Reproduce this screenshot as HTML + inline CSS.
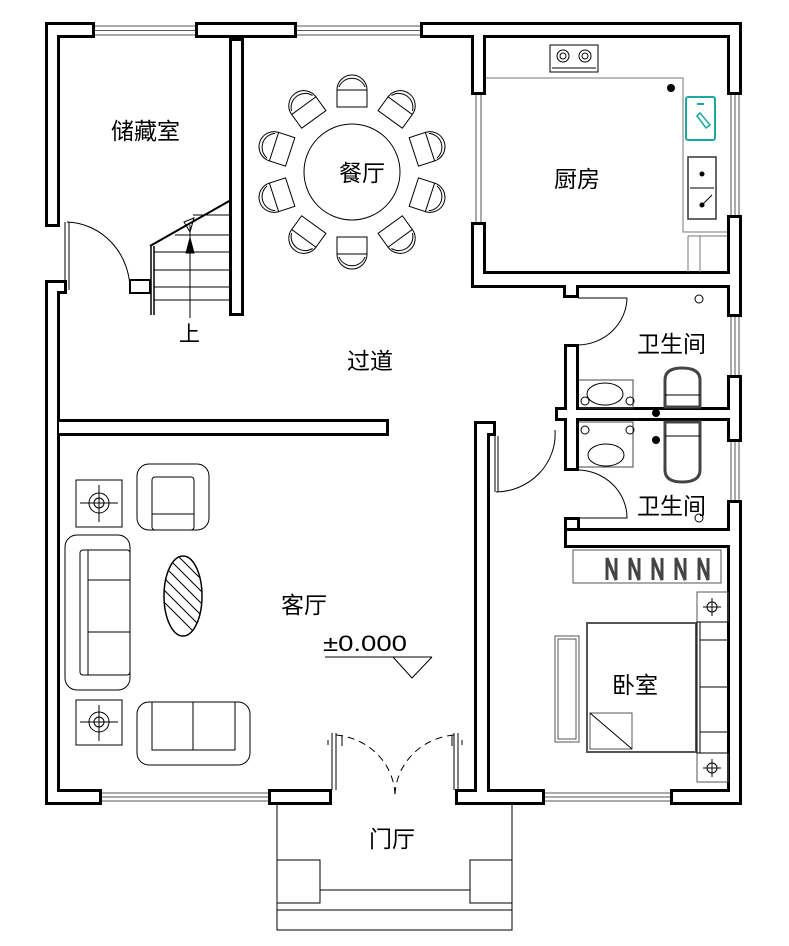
<!DOCTYPE html>
<html><head><meta charset="utf-8"><style>
html,body{margin:0;padding:0;background:#fff;}
svg{display:block;}
text{font-family:"Liberation Sans","Noto Sans CJK SC",sans-serif;fill:#000;}
</style></head><body>
<svg width="789" height="946" viewBox="0 0 789 946" xmlns="http://www.w3.org/2000/svg">
<defs><clipPath id="ct"><ellipse cx="183" cy="596" rx="19" ry="40"/></clipPath></defs>
<g stroke="#555" stroke-width="1" fill="none">
 <path d="M93 26H197M93 30.5H197M93 35H197"/>
 <path d="M297 26H420M297 30.5H420M297 35H420"/>
 <path d="M100 793H270M100 797H270M100 801H270"/>
 <path d="M545 793H672M545 797H672M545 801H672"/>
 <path d="M731 95V217M735 95V217M739 95V217"/>
 <path d="M731 315V377M735 315V377M739 315V377"/>
 <path d="M731 440V502M735 440V502M739 440V502"/>
 <path d="M476 95V222M481 95V222"/>
</g>
<g fill="#000">
 <rect x="45" y="22" width="50" height="16"/>
 <rect x="195" y="22" width="102" height="16"/>
 <rect x="420" y="22" width="322" height="16"/>
 <rect x="45" y="22" width="15" height="205"/>
 <rect x="45" y="280" width="15" height="525"/>
 <rect x="45" y="280" width="22" height="14"/>
 <rect x="45" y="789" width="57" height="16"/>
 <rect x="268" y="789" width="64" height="16"/>
 <rect x="455" y="789" width="90" height="16"/>
 <rect x="670" y="789" width="72" height="16"/>
 <rect x="727" y="22" width="15" height="73"/>
 <rect x="727" y="215" width="15" height="102"/>
 <rect x="727" y="375" width="15" height="67"/>
 <rect x="727" y="500" width="15" height="305"/>
 <rect x="229" y="22" width="15" height="294"/>
 <rect x="56" y="419" width="333" height="17"/>
 <rect x="471" y="22" width="15" height="73"/>
 <rect x="471" y="222" width="15" height="66"/>
 <rect x="471" y="271" width="271" height="17"/>
 <rect x="563" y="285" width="16" height="13"/>
 <rect x="564" y="344" width="15" height="127"/>
 <rect x="555" y="407" width="187" height="14"/>
 <rect x="564" y="517" width="16" height="14"/>
 <rect x="564" y="528" width="178" height="20"/>
 <rect x="474" y="421" width="16" height="384"/>
 <rect x="474" y="421" width="22" height="15"/>
</g>
<g fill="#fff">
 <rect x="48" y="25" width="44" height="10"/>
 <rect x="198" y="25" width="96" height="10"/>
 <rect x="423" y="25" width="316" height="10"/>
 <rect x="48" y="25" width="9" height="199"/>
 <rect x="48" y="283" width="9" height="519"/>
 <rect x="48" y="283" width="16" height="8"/>
 <rect x="48" y="792" width="51" height="10"/>
 <rect x="271" y="792" width="58" height="10"/>
 <rect x="458" y="792" width="84" height="10"/>
 <rect x="673" y="792" width="66" height="10"/>
 <rect x="730" y="25" width="9" height="67"/>
 <rect x="730" y="218" width="9" height="96"/>
 <rect x="730" y="378" width="9" height="61"/>
 <rect x="730" y="503" width="9" height="299"/>
 <rect x="232" y="41" width="9" height="272"/>
 <rect x="59" y="422" width="327" height="11"/>
 <rect x="474" y="25" width="9" height="67"/>
 <rect x="474" y="225" width="9" height="60"/>
 <rect x="474" y="274" width="265" height="11"/>
 <rect x="566" y="285" width="10" height="10"/>
 <rect x="567" y="347" width="9" height="121"/>
 <rect x="558" y="410" width="181" height="8"/>
 <rect x="567" y="520" width="10" height="8"/>
 <rect x="567" y="531" width="172" height="14"/>
 <rect x="477" y="424" width="10" height="378"/>
 <rect x="477" y="424" width="16" height="9"/>
</g>
<g fill="none" stroke="#000" stroke-width="1">
 <path d="M65 222V290M69 222V290"/>
 <path d="M67 222A65 68 0 0 1 130 290"/>
 <rect x="130" y="280" width="20" height="13" stroke-width="2"/>
 <path d="M151 246V315M154 246V315" stroke-width="1.5"/>
 <path d="M150 246L231 200" stroke-width="2"/>
 <path d="M154 252H230M154 270H230M154 287H230M154 300H230M193 215H230M175 235H230"/>
 <path d="M190 225V318"/>
 <path d="M184 222L190 232L194 218Z"/>
 <path d="M186 253L190 238L194 253Z" fill="#000"/>
 <circle cx="352" cy="172" r="48"/>
</g>
<g fill="none" stroke="#000" stroke-width="1">
 <g transform="translate(352 172)">
  <g id="ch"><path d="M-15 -65V-82H15V-65Z"/><path d="M-15 -82A15 15 0 0 1 15 -82"/><path d="M-13 -85A14 14 0 0 1 13 -85"/></g>
  <use href="#ch" transform="rotate(36)"/><use href="#ch" transform="rotate(72)"/>
  <use href="#ch" transform="rotate(108)"/><use href="#ch" transform="rotate(144)"/>
  <use href="#ch" transform="rotate(180)"/><use href="#ch" transform="rotate(216)"/>
  <use href="#ch" transform="rotate(252)"/><use href="#ch" transform="rotate(288)"/>
  <use href="#ch" transform="rotate(324)"/>
 </g>
</g>
<g fill="none" stroke="#777" stroke-width="1">
 <path d="M486 78H683V232H727"/>
 <path d="M688 236V272M700 236V272M688 236H727"/>
</g>
<g fill="none" stroke="#000" stroke-width="1">
 <rect x="550" y="45" width="48" height="27"/>
 <circle cx="563" cy="56" r="6"/><circle cx="563" cy="56" r="3"/>
 <circle cx="585" cy="56" r="6"/><circle cx="585" cy="56" r="3"/>
 <path d="M552 68H596"/>
 <rect x="688" y="157" width="28" height="62" stroke="#333" stroke-width="1.5"/>
 <path d="M690 188H714"/>
 <circle cx="702" cy="174" r="2" fill="#000"/>
 <circle cx="702" cy="205" r="2" fill="#000"/>
 <path d="M702 205L712 195"/>
</g>
<circle cx="671" cy="88" r="4" fill="#000"/>
<rect x="686" y="97" width="29" height="43" rx="2" fill="none" stroke="#1aa9a0" stroke-width="2"/>
<path d="M697 104H704" stroke="#1aa9a0" stroke-width="2"/>
<path d="M697 116L706 128L710 125L700 113Z" fill="none" stroke="#1aa9a0" stroke-width="1.5"/>
<g fill="none" stroke="#000" stroke-width="1">
 <path d="M578 298H627"/>
 <path d="M627 298A50 48 0 0 1 578 345"/>
 <path d="M578 470A50 48 0 0 1 627 518H580"/>
 <path d="M495 436V492M498 436V492"/>
 <path d="M496 492A60 58 0 0 0 555 430"/>
 <path d="M579 380H633V408H579" stroke="#444"/>
 <ellipse cx="605" cy="394" rx="18" ry="11"/>
 <circle cx="585" cy="401" r="4"/><circle cx="630" cy="401" r="4"/>
 <path d="M579 422H633V467H579" stroke="#444"/>
 <ellipse cx="606" cy="455" rx="18" ry="11"/>
 <circle cx="585" cy="430" r="4"/><circle cx="630" cy="430" r="4"/>
 <path d="M665 407V380Q665 368 682 368Q700 368 700 380V407Z" stroke="#444" stroke-width="3"/>
 <path d="M665 395H700"/>
 <path d="M665 422V470Q665 482 682 482Q700 482 700 470V422Z" stroke="#444" stroke-width="3"/>
 <path d="M665 436H700"/>
 <circle cx="699" cy="299" r="4"/><circle cx="699" cy="518" r="4"/>
</g>
<circle cx="656" cy="413" r="4" fill="#000"/>
<circle cx="656" cy="440" r="4" fill="#000"/>
<g fill="none" stroke="#000" stroke-width="1">
 <rect x="573" y="550" width="148" height="33" stroke="#555"/>
 <rect x="555" y="636" width="24" height="106" stroke="#555"/>
 <rect x="558" y="639" width="18" height="100" stroke="#555"/>
 <rect x="587" y="623" width="109" height="129" stroke="#555" stroke-width="2"/>
 <rect x="590" y="713" width="42" height="36" stroke="#555"/>
 <path d="M590 713L632 749"/>
 <rect x="697" y="592" width="31" height="30" stroke="#555"/>
 <rect x="697" y="753" width="31" height="29" stroke="#555"/>
 <circle cx="712" cy="607" r="5"/><path d="M712 598V616M703 607H721"/>
 <circle cx="712" cy="768" r="5"/><path d="M712 759V777M703 768H721"/>
 <rect x="697" y="622" width="31" height="131"/>
 <path d="M700 622V753M700 640H728M700 687H728M700 732H728"/>
</g>
<g stroke="#444" stroke-width="3" fill="none">
 <path d="M607 580V558L616 580V558M630 580V558L639 580V558M653 580V558L662 580V558M676 580V558L685 580V558M699 580V558L708 580V558"/>
</g>
<g fill="none" stroke="#000" stroke-width="1">
 <rect x="76" y="480" width="46" height="47"/>
 <circle cx="99" cy="503" r="10"/><circle cx="99" cy="503" r="5"/><path d="M99 485V522M80 503H118"/>
 <rect x="76" y="700" width="46" height="45"/>
 <circle cx="99" cy="722" r="10"/><circle cx="99" cy="722" r="5"/><path d="M99 705V741M80 722H118"/>
 <rect x="137" y="464" width="72" height="66" rx="12"/>
 <rect x="152" y="477" width="42" height="53" rx="3"/><path d="M152 514H194"/>
 <rect x="65" y="535" width="65" height="155" rx="12"/>
 <rect x="80" y="550" width="50" height="125" rx="3"/>
 <path d="M88 550V675M88 580H130M88 632H130"/>
 <g clip-path="url(#ct)">
  <path d="M150 540L230 620M150 552L230 632M150 564L230 644M150 576L230 656M150 528L230 608M150 516L230 596M150 504L230 584M150 588L230 668"/>
 </g>
 <ellipse cx="183" cy="596" rx="19" ry="40" stroke-width="1.5"/>
 <rect x="137" y="702" width="113" height="63" rx="12"/>
 <rect x="152" y="702" width="83" height="48"/><path d="M193 702V750"/>
 <path d="M325 657H432M393 657L412 678L432 657"/>
 <path d="M332 733V790M336 733V790M454 733V790M458 733V790"/>
 <path d="M336 735A65 62 0 0 1 395 795M454 735A65 62 0 0 0 395 795" stroke-dasharray="7 5"/>
 <path d="M328 740V745M342 735V746M452 735V746M462 740V745"/>
 <path d="M277 803V930H512V803"/>
 <path d="M277 860H320V903H277M512 860H470V903H512M320 890H470M277 910H512"/>
</g>
<g font-size="23">
 <text x="111" y="139">储藏室</text>
 <text x="339" y="181">餐厅</text>
 <text x="554" y="187">厨房</text>
 <text x="347" y="369">过道</text>
 <text x="637" y="352">卫生间</text>
 <text x="637" y="514">卫生间</text>
 <text x="281" y="613">客厅</text>
 <text x="612" y="693">卧室</text>
 <text x="369" y="847">门厅</text>
 <text x="179" y="341" font-size="21">上</text>
</g>
<text x="323" y="651" font-size="22" textLength="84" lengthAdjust="spacingAndGlyphs" style="font-family:'Liberation Sans',sans-serif" fill="#000">±0.000</text>
</svg>
</body></html>
